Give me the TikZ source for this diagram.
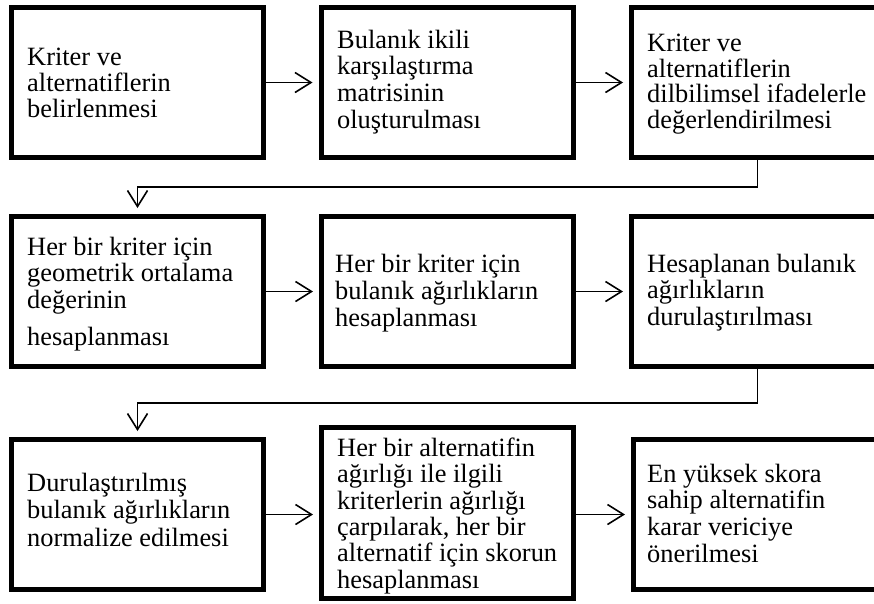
\documentclass[tikz,border=0pt]{standalone}
\usepackage{fontspec}
\setmainfont{Liberation Serif}
\usetikzlibrary{arrows.meta}
\tikzset{
  box/.style={draw=black, fill=white, line width=5pt, rectangle, inner sep=0pt,
    minimum width=252pt, minimum height=150pt},
  txt/.style={anchor=north west, inner sep=0pt, align=left, text=black,
    font={\fontsize{26.4}{26.5}\selectfont}},
  conn/.style={draw=black, line width=1.6pt,
    -{Straight Barb[length=16pt,width=20pt]}, shorten >=6pt},
}
\newcommand{\fl}{\rule{0pt}{20pt}}
\begin{document}
\begin{tikzpicture}[x=1pt,y=-1pt]
\useasboundingbox (0,0) rectangle (874,603);
\clip (0,0) rectangle (874,603);
\fill[white] (0,0) rectangle (874,603);
% boxes
\node[box] (b1) at (137.5,82.5) {};
\node[box] (b2) at (447,82.5) {};
\node[box] (b3) at (757.5,82.5) {};
\node[box] (b4) at (137.5,291.5) {};
\node[box] (b5) at (447.5,291.5) {};
\node[box] (b6) at (757.5,291.5) {};
\node[box] (b7) at (137.5,514.5) {};
\node[box, minimum height=171pt] (b8) at (447.5,513) {};
\node[box] (b9) at (759.5,514.5) {};
% texts
\node[txt, font={\fontsize{26.4}{26}\selectfont}] (t1) at (27,45)
  {\fl Kriter ve\\alternatiflerin\\belirlenmesi};
\node[txt, font={\fontsize{26.4}{26.7}\selectfont}] (t2) at (337,28)
  {\fl Bulanık ikili\\karşılaştırma\\matrisinin\\oluşturulması};
\node[txt, font={\fontsize{26.4}{25.8}\selectfont}] (t3) at (647,31)
  {\fl Kriter ve\\alternatiflerin\\dilbilimsel ifadelerle\\değerlendirilmesi};
\node[txt] (t4) at (27,235)
  {\fl Her bir kriter için\\geometrik ortalama\\değerinin\\[11pt]hesaplanması};
\node[txt, font={\fontsize{26.4}{27}\selectfont}] (t5) at (335,252)
  {\fl Her bir kriter için\\bulanık ağırlıkların\\hesaplanması};
\node[txt] (t6) at (647,252)
  {\fl Hesaplanan bulanık\\ağırlıkların\\durulaştırılması};
\node[txt, font={\fontsize{26.4}{27.5}\selectfont}] (t7) at (27,471)
  {\fl Durulaştırılmış\\bulanık ağırlıkların\\normalize edilmesi};
\node[txt, font={\fontsize{26.4}{26.4}\selectfont}] (t8) at (337,436)
  {\fl Her bir alternatifin\\ağırlığı ile ilgili\\kriterlerin ağırlığı\\çarpılarak, her bir\\alternatif için skorun\\hesaplanması};
\node[txt, font={\fontsize{26.4}{26.7}\selectfont}] (t9) at (647,462)
  {\fl En yüksek skora\\sahip alternatifin\\karar vericiye\\önerilmesi};
% connectors
\coordinate (m1) at (0,187);
\coordinate (m2) at (0,403);
\draw[conn] (b1.east) -- (b2.west);
\draw[conn] (b2.east) -- (b3.west);
\draw[conn] (b3.south) -- (b3.south |- m1) -| (b4.north);
\draw[conn] (b4.east) -- (b5.west);
\draw[conn] (b5.east) -- (b6.west);
\draw[conn] (b6.south) -- (b6.south |- m2) -| (b7.north);
\draw[conn] (b7.east) -- (b8.west |- b7.east);
\draw[conn] (b8.east |- b9.west) -- (b9.west);
\end{tikzpicture}
\end{document}
